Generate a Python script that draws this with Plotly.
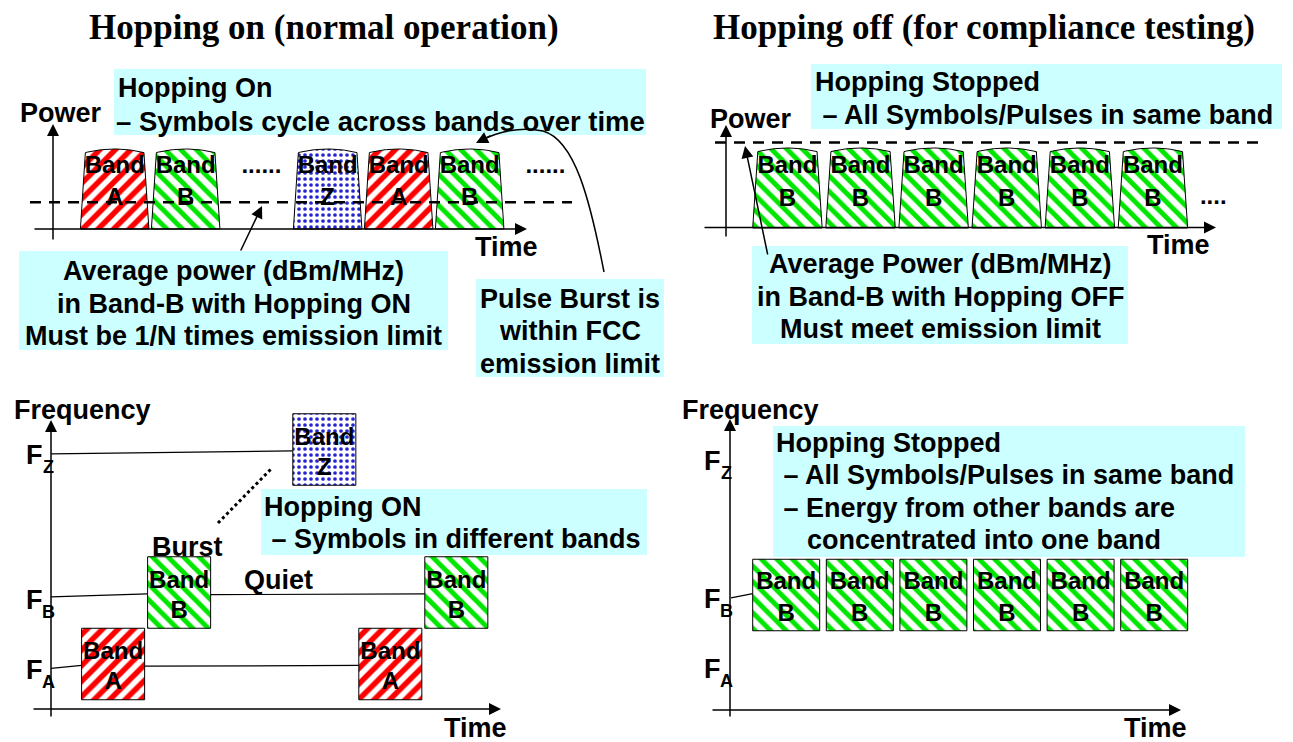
import plotly.graph_objects as go

W, H = 1293, 742
O = 8  # page offset of the plot (body margin), compensated in axis ranges

# ---------------- data ----------------
# Top-left: hopping on (power vs time; time in symbol slots, power relative to peak)
tl_bands = ["A", "B", "Z", "A", "B"]
tl_slots = [0, 1, 3, 4, 5]
tl_peak = [1.0, 1.0, 1.0, 1.0, 1.0]
tl_avg_power = 1 / 3          # average power in band B with hopping on (1/N)
tl_gap_slots = [2.05, 6.05]   # "......" continuation marks

# Top-right: hopping off (power vs time)
tr_bands = ["B", "B", "B", "B", "B", "B"]
tr_slots = [0, 1, 2, 3, 4, 5]
tr_peak = [1.0, 1.0, 1.0, 1.0, 1.0, 1.0]
tr_limit_power = 1.07         # emission limit line
tr_gap_slots = [6.1]

# Bottom-left: hopping on (frequency vs time)
bl_bands = ["A", "B", "Z", "A", "B"]
bl_times = [0, 1, 3.2, 4.2, 5.2]
freq_level = {"A": 1, "B": 2, "Z": 4}

# Bottom-right: hopping off (frequency vs time)
br_bands = ["B", "B", "B", "B", "B", "B"]
br_times = [0, 1, 2, 3, 4, 5]

# ---------------- styles ----------------
SANS = "Liberation Sans, Arial, sans-serif"
SERIF = "Liberation Serif, Times New Roman, serif"
CYAN = "#CCFFFF"
PAT = {
    "A": dict(shape="/", fgcolor="#FF0000", bgcolor="white", size=11, solidity=0.5, fgopacity=1),
    "B": dict(shape="\\", fgcolor="#00E600", bgcolor="white", size=11, solidity=0.45, fgopacity=1),
    "Z": dict(shape=".", fgcolor="#2424D0", bgcolor="white", size=6, solidity=0.3, fgopacity=1),
}


def xr(p0, pitch):
    return [(O - p0) / pitch, (W + O - p0) / pitch]


def yr(p0, pitch):
    return [(p0 - H - O) / pitch, (p0 - O) / pitch]


# pixel-origin / pitch for each panel's axes (layout only)
AX = {
    1: (xr(80.4, 71.0), yr(229, 80)),
    2: (xr(752.7, 73.1), yr(228, 80)),
    3: (xr(81.6, 66.0), yr(735.5, 71.5)),
    4: (xr(752.7, 73.6), yr(738.0, 71.5)),
    5: ([O, W + O], [H + O, O]),
}


def top_band_poly(s, w, h, inset):
    xs, ys = [s, s + inset], [0, 0.955 * h]
    n = 24
    for k in range(n + 1):
        u = k / n
        xs.append(s + inset + u * (w - 2 * inset))
        ys.append(0.955 * h + 0.045 * h * (1 - (2 * u - 1) ** 2))
    xs += [s + w, s]
    ys += [0, 0]
    return xs, ys


def rect_poly(t, w, f):
    return [t, t, t + w, t + w, t], [f - 0.5, f + 0.5, f + 0.5, f - 0.5, f - 0.5]


fig = go.Figure()


def add_band_traces(bands, polys, ax):
    for key in ["A", "B", "Z"]:
        xs, ys = [], []
        for b, (px, py) in zip(bands, polys):
            if b == key:
                xs += px + [None]
                ys += py + [None]
        if not xs:
            continue
        fig.add_trace(go.Scatter(
            x=xs, y=ys, mode="lines", fill="toself", fillcolor="white",
            fillpattern=PAT[key], line=dict(color="black", width=1),
            xaxis="x" + ax, yaxis="y" + ax, hoverinfo="skip"))


def add_labels(xc, yb, yl, letters, ax):
    fig.add_trace(go.Scatter(
        x=xc, y=yb, mode="text", text=["Band"] * len(xc),
        textfont=dict(family=SANS, size=24, color="black", weight="bold"),
        xaxis="x" + ax, yaxis="y" + ax, hoverinfo="skip"))
    fig.add_trace(go.Scatter(
        x=xc, y=yl, mode="text", text=letters,
        textfont=dict(family=SANS, size=24, color="black", weight="bold"),
        xaxis="x" + ax, yaxis="y" + ax, hoverinfo="skip"))


# --- top-left bands
w_tl = 0.965
add_band_traces(tl_bands, [top_band_poly(s, w_tl, h, 0.07) for s, h in zip(tl_slots, tl_peak)], "")
add_labels([s + w_tl / 2 for s in tl_slots], [0.775 * h for h in tl_peak],
           [0.375 * h for h in tl_peak], tl_bands, "")
fig.add_trace(go.Scatter(x=[s + 0.5 for s in tl_gap_slots], y=[0.77, 0.77], mode="text",
                         text=["......", "......"],
                         textfont=dict(family=SANS, size=24, color="black", weight="bold"),
                         xaxis="x", yaxis="y", hoverinfo="skip"))

# --- top-right bands
w_tr = 0.95
add_band_traces(tr_bands, [top_band_poly(s, w_tr, h, 0.07) for s, h in zip(tr_slots, tr_peak)], "2")
add_labels([s + w_tr / 2 for s in tr_slots], [0.76 * h for h in tr_peak],
           [0.35 * h for h in tr_peak], tr_bands, "2")
fig.add_trace(go.Scatter(x=[s + 0.2 for s in tr_gap_slots], y=[0.38], mode="text",
                         text=["...."],
                         textfont=dict(family=SANS, size=24, color="black", weight="bold"),
                         xaxis="x2", yaxis="y2", hoverinfo="skip"))

# --- bottom-left bands
w_bl = 0.955
bl_f = [freq_level[b] for b in bl_bands]
t_axis_bl = (51 - 81.6) / 66.0
seg_x, seg_y = [], []
for lev in ["Z", "B", "A"]:
    f = freq_level[lev]
    idx = [i for i, b in enumerate(bl_bands) if b == lev]
    prev_end = t_axis_bl
    yprev = f - 0.06
    for i in idx:
        seg_x += [prev_end, bl_times[i], None]
        seg_y += [yprev, f - 0.02, None]
        prev_end = bl_times[i] + w_bl
        yprev = f - 0.03
fig.add_trace(go.Scatter(x=seg_x, y=seg_y, mode="lines", line=dict(color="black", width=1.2),
                         xaxis="x3", yaxis="y3", hoverinfo="skip"))
add_band_traces(bl_bands, [rect_poly(t, w_bl, f) for t, f in zip(bl_times, bl_f)], "3")
add_labels([t + w_bl / 2 for t in bl_times], [f + 0.15 for f in bl_f],
           [f - 0.27 for f in bl_f], bl_bands, "3")

# --- bottom-right bands
w_br = 0.91
br_f = [freq_level[b] for b in br_bands]
t_axis_br = (731 - 752.7) / 73.6
fig.add_trace(go.Scatter(x=[t_axis_br, br_times[0]], y=[br_f[0] - 0.04, br_f[0] + 0.02], mode="lines",
                         line=dict(color="black", width=1.2),
                         xaxis="x4", yaxis="y4", hoverinfo="skip"))
add_band_traces(br_bands, [rect_poly(t, w_br, f) for t, f in zip(br_times, br_f)], "4")
add_labels([t + w_br / 2 for t in br_times], [f + 0.17 for f in br_f],
           [f - 0.28 for f in br_f], br_bands, "4")

# dummy trace for the pixel overlay axis
fig.add_trace(go.Scatter(x=[O], y=[O], mode="markers", marker=dict(opacity=0),
                         xaxis="x5", yaxis="y5", hoverinfo="skip"))

shapes = []
annotations = []


def box(x0, y0, x1, y1):
    shapes.append(dict(type="rect", xref="x5", yref="y5", x0=x0, y0=y0, x1=x1, y1=y1,
                       fillcolor=CYAN, line=dict(width=0), layer="below"))


def txt(x, y, s, size=27, anchor="left", family=SANS):
    annotations.append(dict(x=x, y=y, xref="x5", yref="y5", text="<b>" + s + "</b>",
                            showarrow=False, xanchor=anchor, yanchor="middle",
                            font=dict(family=family, size=size, color="black")))


def arrow(x0, y0, x1, y1, size=1.6, width=1.5):
    annotations.append(dict(x=x1, y=y1, ax=x0, ay=y0, xref="x5", yref="y5", axref="x5",
                            ayref="y5", text="", showarrow=True, arrowhead=2,
                            arrowsize=size, arrowwidth=width, arrowcolor="black"))


# titles
txt(324, 27, "Hopping on (normal operation)", size=35, anchor="center", family=SERIF)
txt(984, 27, "Hopping off (for compliance testing)", size=35, anchor="center", family=SERIF)

# ---- top-left decorations
box(114, 69, 646, 135)
txt(116, 88, "Hopping On")
txt(114, 121, "– Symbols cycle across bands over time", size=27.5)
txt(61, 113, "Power", anchor="center")
txt(506, 247, "Time", anchor="center")
arrow(53, 241, 53, 124)
arrow(33, 229, 527, 229)
shapes.append(dict(type="line", xref="x5", yref="y", x0=30, x1=572, y0=tl_avg_power, y1=tl_avg_power,
                   line=dict(color="black", width=2.5, dash="11px,8px"), layer="above"))
box(19, 251, 448, 350)
txt(233.5, 271, "Average power (dBm/MHz)", anchor="center")
txt(233.5, 304, "in Band-B with Hopping ON", anchor="center")
txt(233.5, 336, "Must be 1/N times emission limit", anchor="center")
arrow(240, 252, 262, 206)
box(476, 279, 664, 377)
txt(570, 299, "Pulse Burst is", anchor="center")
txt(570, 331, "within FCC", anchor="center")
txt(570, 364, "emission limit", anchor="center")
shapes.append(dict(type="path", xref="x5", yref="y5",
                   path="M 604,272 C 590,200 575,140 543,131 C 520,126 497,132 480,141",
                   line=dict(color="black", width=1.5), layer="above"))
arrow(492, 135, 476, 143, size=1.6)

# ---- top-right decorations
box(811, 64, 1282, 129)
txt(813, 82, "Hopping Stopped")
txt(813, 115, " – All Symbols/Pulses in same band")
txt(751, 119, "Power", anchor="center")
txt(1178, 245, "Time", anchor="center")
arrow(726, 238, 726, 125)
arrow(703, 227.5, 1216, 227.5)
shapes.append(dict(type="line", xref="x5", yref="y2", x0=715, x1=1260, y0=tr_limit_power,
                   y1=tr_limit_power, line=dict(color="black", width=2.5, dash="11px,8px"),
                   layer="above"))
box(752, 246, 1128, 344)
txt(940, 264, "Average Power (dBm/MHz)", anchor="center")
txt(940, 297, "in Band-B with Hopping OFF", anchor="center")
txt(940, 329, "Must meet emission limit", anchor="center")
arrow(768, 256, 745, 146)

# ---- bottom-left decorations
txt(12, 410, "Frequency")
arrow(51, 718, 51, 420)
arrow(32, 709, 501, 709)
txt(475, 728, "Time", anchor="center")
for lab, yy in [("Z", 455), ("B", 600), ("A", 670)]:
    txt(34, yy, "F", size=27, anchor="center")
    txt(48, yy + 12, lab, size=18, anchor="center")
txt(187, 547, "Burst", anchor="center")
txt(278, 580, "Quiet", anchor="center")
shapes.append(dict(type="line", xref="x5", yref="y5", x0=218, y0=523, x1=272, y1=468,
                   line=dict(color="black", width=3, dash="dot"), layer="above"))
box(261, 489, 647, 555)
txt(262, 507, "Hopping ON")
txt(262, 539, " – Symbols in different bands")

# ---- bottom-right decorations
txt(680, 410, "Frequency")
arrow(730, 718, 730, 419)
arrow(711, 710, 1181, 710)
txt(1155, 728, "Time", anchor="center")
for lab, yy in [("Z", 461), ("B", 599), ("A", 669)]:
    txt(712, yy, "F", size=27, anchor="center")
    txt(726, yy + 12, lab, size=18, anchor="center")
box(773, 426, 1245, 557)
txt(774, 443, "Hopping Stopped")
txt(774, 475, " – All Symbols/Pulses in same band")
txt(774, 508, " – Energy from other bands are")
txt(805, 540, "concentrated into one band")

layout = dict(width=W, height=H, margin=dict(l=0, r=0, t=0, b=0),
              paper_bgcolor="white", plot_bgcolor="rgba(0,0,0,0)", showlegend=False,
              shapes=shapes, annotations=annotations)
for i, (xrng, yrng) in AX.items():
    sx = "" if i == 1 else str(i)
    layout["xaxis" + sx] = dict(domain=[0, 1], range=xrng, visible=False, fixedrange=True,
                                anchor="y" + sx)
    layout["yaxis" + sx] = dict(domain=[0, 1], range=yrng, visible=False, fixedrange=True,
                                anchor="x" + sx)
fig.update_layout(**layout)
fig.write_html("out.html")
